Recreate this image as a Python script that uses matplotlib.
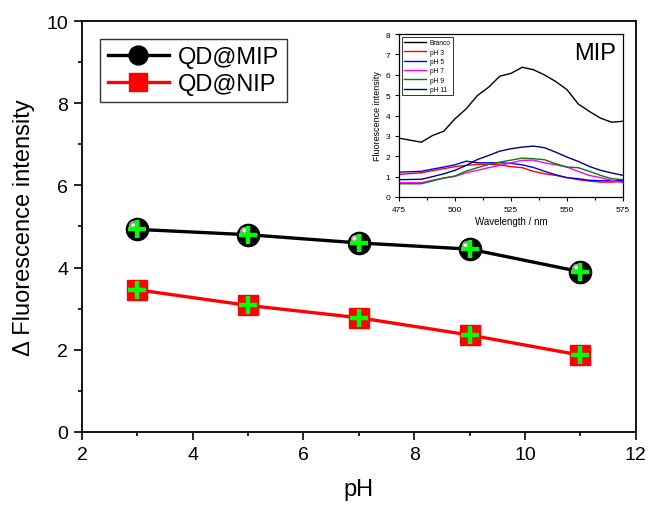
import matplotlib
matplotlib.use("Agg")
import matplotlib.pyplot as plt
from matplotlib.ticker import MultipleLocator
from matplotlib.transforms import offset_copy

plt.rcParams['font.family'] = ['Liberation Sans', 'DejaVu Sans']

# pH response of the imprinted / non-imprinted quantum dots
ph = [3, 5, 7, 9, 11]
qd_mip = [4.93, 4.80, 4.60, 4.45, 3.90]
qd_nip = [3.46, 3.08, 2.78, 2.36, 1.87]

# Emission spectra of QD@MIP at each pH
wavelength = [475, 485, 490, 495, 500, 505, 510, 515, 520, 525, 530,
              535, 540, 545, 550, 555, 560, 565, 570, 575]
branco = [2.89, 2.69, 3.02, 3.23, 3.84, 4.33, 4.98, 5.39, 5.93, 6.07, 6.37,
          6.25, 5.99, 5.67, 5.27, 4.57, 4.20, 3.87, 3.67, 3.72]
ph3 = [1.11, 1.19, 1.29, 1.39, 1.49, 1.55, 1.60, 1.60, 1.58, 1.49, 1.44,
       1.26, 1.14, 1.06, 0.95, 0.85, 0.78, 0.73, 0.73, 0.77]
ph5 = [1.22, 1.26, 1.37, 1.47, 1.58, 1.76, 1.68, 1.68, 1.68, 1.65, 1.58,
       1.45, 1.26, 1.09, 0.95, 0.90, 0.82, 0.80, 0.80, 0.82]
ph7 = [0.70, 0.70, 0.82, 0.93, 1.01, 1.19, 1.31, 1.44, 1.55, 1.68, 1.80,
       1.81, 1.68, 1.58, 1.47, 1.26, 1.06, 0.95, 0.82, 0.70]
ph9 = [0.65, 0.65, 0.79, 0.93, 1.03, 1.27, 1.44, 1.60, 1.71, 1.81, 1.91,
       1.88, 1.83, 1.63, 1.47, 1.44, 1.26, 1.06, 0.90, 0.85]
ph11 = [0.85, 0.87, 1.00, 1.14, 1.31, 1.55, 1.84, 2.04, 2.25, 2.37, 2.45,
        2.50, 2.42, 2.20, 1.96, 1.75, 1.50, 1.31, 1.18, 1.06]
spectra = [("Branco", branco, "black"), ("pH 3", ph3, "#ff0000"),
           ("pH 5", ph5, "#0000ff"), ("pH 7", ph7, "#ff00ff"),
           ("pH 9", ph9, "#008000"), ("pH 11", ph11, "#000080")]

fig = plt.figure(figsize=(6.48, 5.06), dpi=100)
ax = fig.add_axes([0.1265, 0.1443, 0.8545, 0.8122])

mip_line, = ax.plot(ph, qd_mip, color='black', lw=2.4, marker='o', ms=16,
                    mfc='black', mec='black', zorder=3)
# glossy highlight on the spheres
hl = offset_copy(ax.transData, fig=fig, x=-4, y=4, units='dots')
ax.plot(ph, qd_mip, ls='none', marker='o', ms=6.5, mfc='#9a9a9a', mec='none',
        transform=hl, zorder=4)
hl2 = offset_copy(ax.transData, fig=fig, x=-4.5, y=4.5, units='dots')
ax.plot(ph, qd_mip, ls='none', marker='o', ms=3, mfc='#e8e8e8', mec='none',
        transform=hl2, zorder=4)
nip_line, = ax.plot(ph, qd_nip, color='#ff0000', lw=2.4, marker='s', ms=15,
                    mfc='#ff0000', mec='#ff0000', zorder=3)
ax.plot(ph, qd_mip, ls='none', marker='+', ms=13, mew=3.2, color='#00ff00', zorder=5)
ax.plot(ph, qd_nip, ls='none', marker='+', ms=13, mew=3.2, color='#00ff00', zorder=5)

ax.set_xlim(2, 12)
ax.set_ylim(0, 10)
ax.xaxis.set_major_locator(MultipleLocator(2))
ax.xaxis.set_minor_locator(MultipleLocator(1))
ax.yaxis.set_major_locator(MultipleLocator(2))
ax.yaxis.set_minor_locator(MultipleLocator(1))
ax.tick_params(which='both', direction='out', top=False, right=False,
               labelsize=14, width=1.2)
ax.tick_params(which='major', length=6, pad=4)
ax.tick_params(which='minor', length=3)
for s in ax.spines.values():
    s.set_linewidth(1.3)
ax.set_xlabel('pH', fontsize=17, labelpad=11)
ax.set_ylabel('\u0394 Fluorescence intensity', fontsize=17, labelpad=8)

leg = ax.legend([mip_line, nip_line], ['QD@MIP', 'QD@NIP'], loc='upper left',
                bbox_to_anchor=(0.012, 0.985), fontsize=17, frameon=True,
                fancybox=False, edgecolor='black', handlelength=2.6,
                borderpad=0.3, labelspacing=0.2, handletextpad=0.4,
                markerscale=0.85)
leg.get_frame().set_linewidth(1.0)

# inset with the emission spectra
ins = fig.add_axes([0.6157, 0.6087, 0.3457, 0.322])
for name, vals, col in spectra:
    ins.plot(wavelength, vals, color=col, lw=1.0, label=name)
ins.set_xlim(475, 575)
ins.set_ylim(0, 8)
ins.xaxis.set_major_locator(MultipleLocator(25))
ins.xaxis.set_minor_locator(MultipleLocator(12.5))
ins.yaxis.set_major_locator(MultipleLocator(1))
ins.tick_params(which='both', direction='out', top=False, right=False,
                labelsize=6, width=0.8)
ins.tick_params(which='major', length=3)
ins.tick_params(which='minor', length=2)
for s in ins.spines.values():
    s.set_linewidth(0.9)
ins.set_xlabel('Wavelength / nm', fontsize=7, labelpad=2)
ins.set_ylabel('Fluorescence intensity', fontsize=6.5, labelpad=2)
ins.text(0.97, 0.95, 'MIP', transform=ins.transAxes, ha='right', va='top',
         fontsize=17)
il = ins.legend(loc='upper left', bbox_to_anchor=(0.0, 1.0), fontsize=4.8,
                frameon=True, fancybox=False, edgecolor='black',
                handlelength=3.2, borderpad=0.3, labelspacing=0.35,
                handletextpad=0.6)
il.get_frame().set_linewidth(0.7)

fig.savefig('out.png', dpi=100)
